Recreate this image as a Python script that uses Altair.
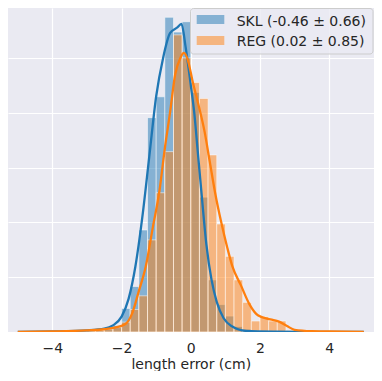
import altair as alt
import pandas as pd

# ---------------- data ----------------
bin_left = [-3.0, -2.75, -2.5, -2.25, -2.0, -1.75, -1.5, -1.25, -1.0, -0.75, -0.5, -0.25,
            0.0, 0.25, 0.5, 0.75, 1.0, 1.25, 1.5, 1.75, 2.0, 2.25, 2.5, 2.75]
bin_width = 0.25
skl_hist = [0.002, 0.003, 0.006, 0.012, 0.043, 0.083, 0.186, 0.391, 0.429, 0.574, 0.547, 0.566,
            0.437, 0.246, 0.095, 0.050, 0.029, 0.010, 0.005, 0.002, 0.0, 0.0, 0.0, 0.0]
reg_hist = [0.002, 0.003, 0.005, 0.008, 0.018, 0.041, 0.066, 0.168, 0.254, 0.329, 0.542, 0.500,
            0.455, 0.426, 0.323, 0.197, 0.138, 0.095, 0.054, 0.020, 0.028, 0.020, 0.020, 0.003]

skl_kde_x = [-5.0, -4.0, -3.0, -2.5, -2.25, -2.0, -1.8, -1.6, -1.4, -1.2, -1.0, -0.8, -0.6, -0.4,
             -0.27, -0.15, 0.0, 0.1, 0.2, 0.3, 0.45, 0.6, 0.75, 0.95, 1.2, 1.6, 2.5, 3.5, 5.0]
skl_kde_y = [0.0, 0.001, 0.003, 0.006, 0.012, 0.028, 0.060, 0.120, 0.210, 0.320, 0.430, 0.500, 0.545, 0.555,
             0.562, 0.520, 0.450, 0.400, 0.330, 0.260, 0.160, 0.095, 0.055, 0.025, 0.010, 0.002, 0.0005, 0.0, 0.0]

reg_kde_x = [-5.0, -4.0, -3.0, -2.5, -2.2, -1.9, -1.7, -1.5, -1.3, -1.1, -0.9, -0.75, -0.6, -0.45,
             -0.3, -0.2, -0.09, 0.06, 0.2, 0.4, 0.55, 0.7, 0.88, 1.05, 1.2, 1.45, 1.7, 1.95, 2.3,
             2.55, 2.78, 3.0, 3.5, 4.0, 5.0]
reg_kde_y = [0.0, 0.001, 0.003, 0.005, 0.008, 0.014, 0.033, 0.075, 0.120, 0.190, 0.260, 0.335, 0.400, 0.470,
             0.500, 0.509, 0.497, 0.455, 0.420, 0.365, 0.310, 0.255, 0.200, 0.155, 0.120, 0.085, 0.050, 0.030, 0.023,
             0.019, 0.011, 0.004, 0.0015, 0.001, 0.0]

series = ["SKL", "REG"]
legend_labels = ["SKL (-0.46 \u00b1 0.66)", "REG (0.02 \u00b1 0.85)"]
colors = ["#1f77b4", "#ff7f0e"]
x_ticks = [-4, -2, 0, 2, 4]
y_grid = [0.1, 0.2, 0.3, 0.4, 0.5]
x_title = "length error (cm)"

X_DOMAIN = [-5.283, 5.295]
Y_DOMAIN = [0, 0.591]
FONT = "DejaVu Sans"
TEXT_COLOR = "#262626"

xscale = alt.Scale(domain=X_DOMAIN, nice=False, zero=False)
yscale = alt.Scale(domain=Y_DOMAIN, nice=False, zero=False)

xaxis = alt.Axis(values=x_ticks, grid=True, gridColor="white", gridWidth=1.2, domain=False,
                 ticks=False, tickSize=0, labelFontSize=14, labelFont=FONT, labelColor=TEXT_COLOR,
                 labelPadding=20, labelBaseline="alphabetic", title=x_title, titleFont=FONT,
                 titleFontSize=14, titleFontWeight="normal", titleColor=TEXT_COLOR,
                 titleBaseline="alphabetic", titleX=182.8, titleY=36, titleAlign="center")
yaxis = alt.Axis(values=y_grid, grid=True, gridColor="white", gridWidth=1.2, domain=False,
                 ticks=False, tickSize=0, labels=False, title=None)

layers = []
for name, vals, col in zip(series, [skl_hist, reg_hist], colors):
    df = pd.DataFrame({"x0": bin_left, "x1": [b + bin_width for b in bin_left], "density": vals})
    df = df[df.density > 0]
    layers.append(
        alt.Chart(df).mark_rect(fill=col, fillOpacity=0.5, stroke="white", strokeOpacity=0.5,
                                strokeWidth=1, clip=True).encode(
            x=alt.X("x0:Q", scale=xscale, axis=xaxis),
            x2="x1:Q",
            y=alt.Y("density:Q", scale=yscale, axis=yaxis),
            y2=alt.datum(0),
        )
    )

for kx, ky, col in zip([skl_kde_x, reg_kde_x], [skl_kde_y, reg_kde_y], colors):
    df = pd.DataFrame({"x0": kx, "density": ky})
    layers.append(
        alt.Chart(df).mark_line(color=col, strokeWidth=2.3, interpolate="monotone", clip=True).encode(
            x=alt.X("x0:Q", scale=xscale, axis=xaxis),
            y=alt.Y("density:Q", scale=yscale, axis=yaxis),
        )
    )

# legend (decoration)
leg_df = pd.DataFrame({"label": legend_labels})
layers.append(
    alt.Chart(leg_df.iloc[:1]).mark_rect(fill="#eaeaf2", fillOpacity=0.8, stroke="#cccccc",
                                         strokeWidth=1, cornerRadius=3).encode(
        x=alt.value(182.5), x2=alt.value(365), y=alt.value(0.5), y2=alt.value(46))
)
patch_y = [(7, 16), (28, 37)]
text_y = [17.7, 37.7]
for i, col in enumerate(colors):
    layers.append(
        alt.Chart(leg_df.iloc[i:i + 1]).mark_rect(fill=col, fillOpacity=0.5).encode(
            x=alt.value(188.7), x2=alt.value(216.3), y=alt.value(patch_y[i][0]), y2=alt.value(patch_y[i][1]))
    )
    layers.append(
        alt.Chart(leg_df.iloc[i:i + 1]).mark_text(align="left", baseline="alphabetic", font=FONT,
                                                 fontSize=14, color=TEXT_COLOR).encode(
            x=alt.value(228.7), y=alt.value(text_y[i]), text="label:N")
    )

chart = alt.layer(*layers).properties(
    width=366, height=324, padding={"left": 0, "top": 0, "right": 0, "bottom": 0},
    background="white"
).configure_view(fill="#eaeaf2", stroke=None)

chart.save("out.html", embed_options={"renderer": "svg", "actions": False})
